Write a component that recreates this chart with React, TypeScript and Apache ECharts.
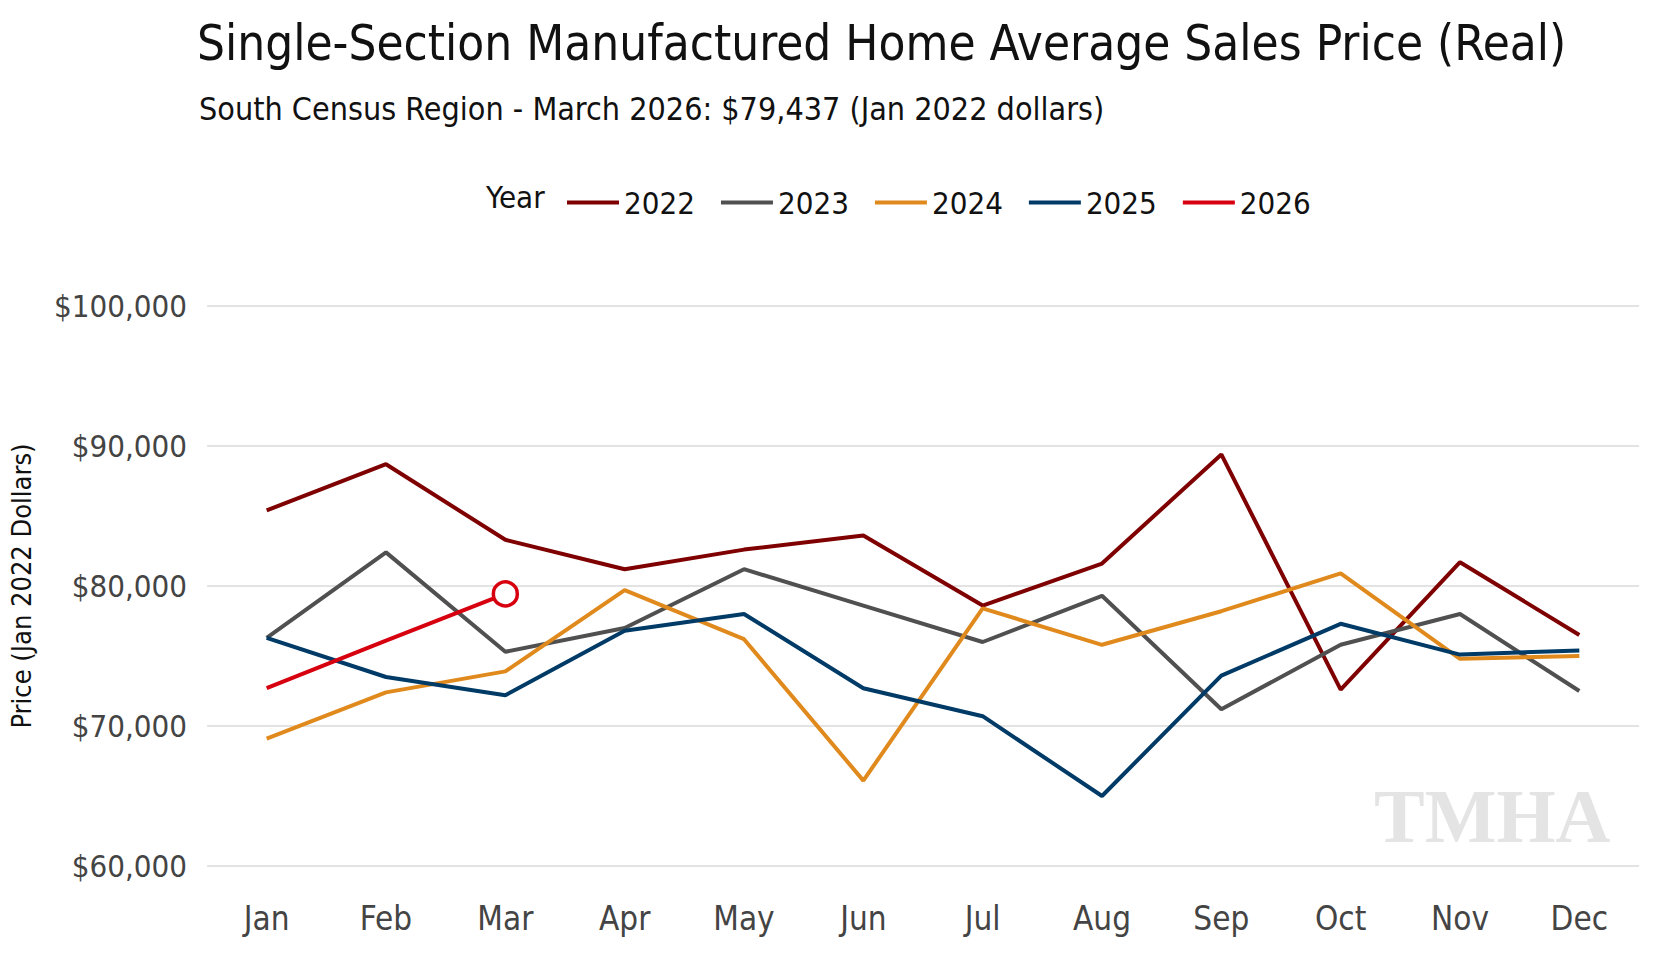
import React, { useEffect, useRef } from "react";
import * as echarts from "echarts";

const months = ["Jan", "Feb", "Mar", "Apr", "May", "Jun", "Jul", "Aug", "Sep", "Oct", "Nov", "Dec"];
const y2022 = [85400, 88700, 83300, 81200, 82600, 83600, 78600, 81600, 89400, 72600, 81700, 76500];
const y2023 = [76300, 82400, 75300, 77000, 81200, 78600, 76000, 79300, 71200, 75800, 78000, 72500];
const y2024 = [69100, 72400, 73900, 79700, 76200, 66100, 78400, 75800, 78200, 80900, 74800, 75000];
const y2025 = [76300, 73500, 72200, 76800, 78000, 72700, 70700, 65000, 73600, 77300, 75100, 75400];
const y2026 = [72700, 76100, 79437];

const FONT = "'DejaVu Sans Condensed', 'Liberation Sans Narrow', sans-serif";
const colors: Record<string, string> = {
  "2022": "#7f0000",
  "2023": "#505050",
  "2024": "#e08a1e",
  "2025": "#003a66",
  "2026": "#d7000f",
};

export default function App() {
  const chartRef = useRef<HTMLDivElement>(null);

  useEffect(() => {
    document.body.style.margin = "0";
    const chart = echarts.init(chartRef.current!, null, { renderer: "svg" });
    const mk = (name: string, data: number[]) => ({
      name,
      type: "line",
      data,
      symbol: "none",
      lineStyle: { color: colors[name], width: 4 },
      itemStyle: { color: colors[name] },
    });
    chart.setOption({
      animation: false,
      textStyle: { fontFamily: FONT },
      title: [
        {
          text: "Single-Section Manufactured Home Average Sales Price (Real)",
          left: 192,
          top: 14,
          textStyle: { fontFamily: FONT, fontSize: 49, fontWeight: "normal", color: "#111" },
        },
        {
          text: "South Census Region - March 2026: $79,437 (Jan 2022 dollars)",
          left: 194,
          top: 88,
          textStyle: { fontFamily: FONT, fontSize: 32, fontWeight: "normal", color: "#111" },
        },
      ],
      legend: {
        top: 182,
        left: 562,
        itemWidth: 52,
        itemHeight: 4,
        itemGap: 26,
        icon: "rect",
        textStyle: { fontFamily: FONT, fontSize: 31, color: "#111" },
        data: Object.keys(colors).map((k) => ({ name: k, itemStyle: { color: colors[k], borderWidth: 0 } })),
      },
      graphic: [
        { type: "text", left: 486, top: 181, style: { text: "Year", font: `31px ${FONT}`, fill: "#111" } },
        {
          type: "text",
          left: 1374,
          top: 778,
          style: { text: "TMHA", font: `bold 76px 'Liberation Serif', serif`, fill: "#e4e4e4" },
        },
      ],
      grid: { left: 206, right: 21, top: 306, bottom: 94 },
      xAxis: {
        type: "category",
        data: months,
        axisLine: { show: false },
        axisTick: { show: false },
        axisLabel: { fontFamily: FONT, fontSize: 33, color: "#444", margin: 36 },
      },
      yAxis: {
        type: "value",
        min: 60000,
        max: 100000,
        interval: 10000,
        name: "Price (Jan 2022 Dollars)",
        nameLocation: "middle",
        nameGap: 172,
        nameTextStyle: { fontFamily: FONT, fontSize: 27, color: "#111" },
        axisLabel: {
          fontFamily: FONT,
          fontSize: 31,
          color: "#444",
          margin: 20,
          formatter: (v: number) => "$" + v.toLocaleString("en-US"),
        },
        splitLine: { lineStyle: { color: "#e3e3e3", width: 2 } },
      },
      series: [
        mk("2022", y2022),
        mk("2023", y2023),
        mk("2024", y2024),
        mk("2025", y2025),
        {
          ...mk("2026", y2026),
          symbol: (_v: any, p: any) => (p.dataIndex === y2026.length - 1 ? "circle" : "none"),
          symbolSize: 24,
          showSymbol: true,
          itemStyle: { color: "#fff", borderColor: colors["2026"], borderWidth: 3.5 },
        },
      ],
    });
    return () => chart.dispose();
  }, []);

  return <div ref={chartRef} style={{ width: 1660, height: 960 }} />;
}
